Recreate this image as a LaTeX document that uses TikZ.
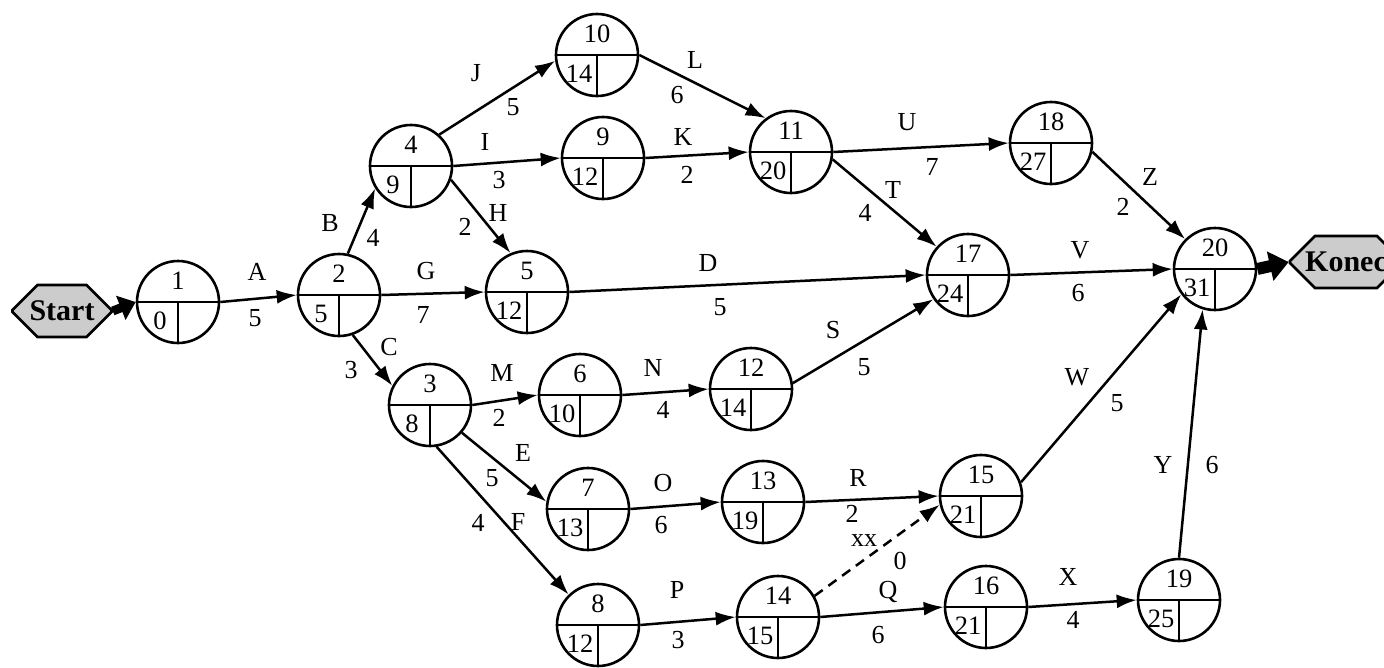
\documentclass[tikz,border=0pt]{standalone}
\usepackage{fontspec}
\setmainfont{Liberation Serif}
\usetikzlibrary{arrows.meta,shapes.misc,calc}
\newcommand\evn[5]{%
  \node[ev] (#1) at (#2,#3) {};
  \draw[lw] (#1.west) -- (#1.east);
  \draw[lw] (#1.center) -- (#1.south);
  \node[num] (#1t) at ($(#1.center)+(0,-21)$) {#4};
  \node[num] (#1b) at ($(#1.center)+(-18,19)$) {#5};
}
\begin{document}
\begin{tikzpicture}[x=1pt,y=-1pt,
  lw/.style={line width=2.6pt},
  ev/.style={circle, draw, line width=2.6pt, minimum size=82pt, inner sep=0pt},
  num/.style={font=\fontsize{26.5}{26.5}\selectfont, inner sep=0pt},
  lbl/.style={font=\fontsize{26}{26}\selectfont, inner sep=0pt},
  act/.style={line width=2.5pt, -{Latex[length=20pt,width=14pt]}},
  dummy/.style={act, dash pattern=on 10pt off 7pt},
  term/.style={chamfered rectangle, chamfered rectangle sep=13pt, draw, line width=2.6pt,
    fill=gray!40, font=\bfseries\fontsize{30}{30}\selectfont,
    minimum width=99pt, minimum height=52pt, inner sep=2pt},
  bigarrow/.style={line width=9pt, -{Triangle[length=16pt,width=25pt]}}
]
\clip (0,0) rectangle (1384,667);
\fill[white] (0,0) rectangle (1384,667);

% terminals
\node[term] (start) at (62,311) {Start};
\node[term, minimum width=112pt] (konec) at (1346,262) {Konec};

% events
\evn{n1}{178}{302}{1}{0}
\evn{n2}{339}{295}{2}{5}
\evn{n3}{430}{405}{3}{8}
\evn{n4}{411}{166}{4}{9}
\evn{n5}{527}{292}{5}{12}
\evn{n6}{580}{395}{6}{10}
\evn{n7}{588}{509}{7}{13}
\evn{n8}{598}{625}{8}{12}
\evn{n9}{603}{158}{9}{12}
\evn{n10}{597}{55}{10}{14}
\evn{n11}{791}{152}{11}{20}
\evn{n12}{751}{389}{12}{14}
\evn{n13}{763}{502}{13}{19}
\evn{n14}{778}{617}{14}{15}
\evn{n15}{981}{496}{15}{21}
\evn{n16}{986}{607}{16}{21}
\evn{n17}{968}{275}{17}{24}
\evn{n18}{1051}{143}{18}{27}
\evn{n19}{1179}{600}{19}{25}
\evn{n20}{1215}{269}{20}{31}

% start / end arrows
\draw[bigarrow] (start.east) -- (n1.west);
\draw[bigarrow, line width=12pt, -{Triangle[length=19pt,width=29pt]}] (n20.east) -- (konec.west);

% activities
\draw[act] (n1.east) -- (n2.west);
\draw[act] (n2.78) -- (n4.212);
\draw[act] (n2.289) -- (n3.153);
\draw[act] (n2.east) -- (n5.west);
\draw[act] (n4.48) -- (n10.188);
\draw[act] (n4.east) -- (n9.west);
\draw[act] (n4.341) -- (n5.113);
\draw[act] (n10.east) -- (n11.127);
\draw[act] (n9.east) -- (n11.west);
\draw[act] (n11.east) -- (n18.west);
\draw[act] (n11.350) -- (n17.138);
\draw[act] (n18.348) -- (n20.135);
\draw[act] (n5.east) -- (n17.west);
\draw[act] (n17.east) -- (n20.west);
\draw[act] (n3.east) -- (n6.west);
\draw[act] (n6.east) -- (n12.west);
\draw[act] (n12.8) -- (n17.215);
\draw[act] (n3.319) -- (n7.170);
\draw[act] (n7.east) -- (n13.west);
\draw[act] (n3.279) -- (n8.134);
\draw[act] (n8.east) -- (n14.west);
\draw[act] (n13.east) -- (n15.west);
\draw[dummy] (n14.30) -- (n15.192);
\draw[act] (n14.east) -- (n16.west);
\draw[act] (n16.east) -- (n19.west);
\draw[act] (n15.19) -- (n20.217);
\draw[act] (n19.north) -- (n20.253);

% labels
\node[lbl] (lA) at (257,272) {A};   \node[lbl] (dA) at (255,318) {5};
\node[lbl] (lB) at (330,223) {B};   \node[lbl] (dB) at (373,238) {4};
\node[lbl] (lC) at (389,347) {C};   \node[lbl] (dC) at (351,370) {3};
\node[lbl] (lG) at (426,271) {G};   \node[lbl] (dG) at (423,315) {7};
\node[lbl] (lH) at (498,213) {H};   \node[lbl] (dH) at (465,227) {2};
\node[lbl] (lJ) at (476,73) {J};    \node[lbl] (dJ) at (513,107) {5};
\node[lbl] (lI) at (485,142) {I};   \node[lbl] (dI) at (499,180) {3};
\node[lbl] (lL) at (695,60) {L};    \node[lbl] (dL) at (677,95) {6};
\node[lbl] (lK) at (683,137) {K};   \node[lbl] (dK) at (687,175) {2};
\node[lbl] (lU) at (907,122) {U};   \node[lbl] (dU) at (932,167) {7};
\node[lbl] (lT) at (893,190) {T};   \node[lbl] (dT) at (865,213) {4};
\node[lbl] (lZ) at (1150,177) {Z};  \node[lbl] (dZ) at (1123,207) {2};
\node[lbl] (lV) at (1080,250) {V};  \node[lbl] (dV) at (1078,293) {6};
\node[lbl] (lD) at (708,263) {D};   \node[lbl] (dD) at (720,307) {5};
\node[lbl] (lS) at (833,330) {S};   \node[lbl] (dS) at (864,367) {5};
\node[lbl] (lN) at (653,368) {N};   \node[lbl] (dN) at (663,410) {4};
\node[lbl] (lM) at (502,373) {M};   \node[lbl] (dM) at (499,418) {2};
\node[lbl] (lE) at (523,453) {E};   \node[lbl] (dE) at (492,478) {5};
\node[lbl] (lF) at (518,522) {F};   \node[lbl] (dF) at (478,523) {4};
\node[lbl] (lO) at (663,483) {O};   \node[lbl] (dO) at (661,525) {6};
\node[lbl] (lP) at (677,590) {P};   \node[lbl] (dP) at (678,640) {3};
\node[lbl] (lR) at (858,478) {R};   \node[lbl] (dR) at (852,514) {2};
\node[lbl] (lXX) at (864,541) {xx}; \node[lbl] (dXX) at (900,561) {0};
\node[lbl] (lQ) at (888,592) {Q};   \node[lbl] (dQ) at (878,635) {6};
\node[lbl] (lX) at (1068,577) {X};  \node[lbl] (dX) at (1073,620) {4};
\node[lbl] (lW) at (1077,377) {W};  \node[lbl] (dW) at (1117,403) {5};
\node[lbl] (lY) at (1163,465) {Y};  \node[lbl] (dY) at (1212,465) {6};
\end{tikzpicture}
\end{document}
